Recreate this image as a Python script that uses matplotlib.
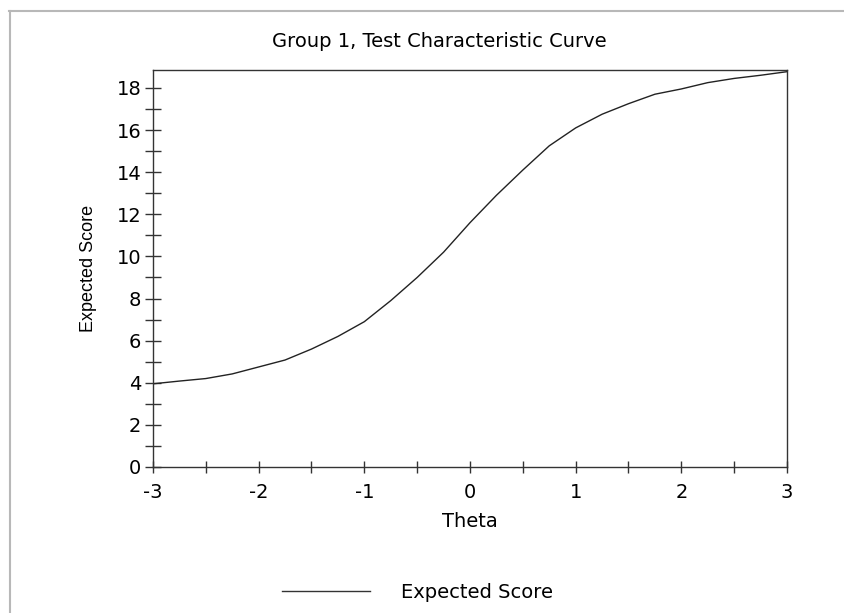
import numpy as np
import matplotlib.pyplot as plt
from matplotlib.lines import Line2D
from matplotlib.ticker import MultipleLocator

plt.rcParams['font.family'] = ['DejaVu Sans']
plt.rcParams['axes.unicode_minus'] = False

# datos -------------------------------------------------------------
theta = [-3.0, -2.75, -2.5, -2.25, -2.0, -1.75, -1.5, -1.25, -1.0, -0.75,
         -0.5, -0.25, 0.0, 0.25, 0.5, 0.75, 1.0, 1.25, 1.5, 1.75,
         2.0, 2.25, 2.5, 2.75, 3.0]
expected_score = [3.95, 4.08, 4.2, 4.42, 4.75, 5.08, 5.6, 6.2, 6.9, 7.9,
                  9.0, 10.2, 11.6, 12.9, 14.1, 15.25, 16.1, 16.75, 17.25, 17.7,
                  17.95, 18.25, 18.45, 18.6, 18.77]
x_ticks = [-3, -2, -1, 0, 1, 2, 3]
y_ticks = [0, 2, 4, 6, 8, 10, 12, 14, 16, 18]

fig = plt.figure(figsize=(8.45, 6.13), dpi=100)
ax = fig.add_axes([153/845, 1 - 467/613, (787 - 153)/845, (467 - 70)/613])

ax.plot(theta, expected_score, color='#222222', lw=1.0)

ax.set_xlim(-3, 3)
ax.set_ylim(0, 18.85)
ax.set_xticks(x_ticks)
ax.set_yticks(y_ticks)
ax.xaxis.set_minor_locator(MultipleLocator(0.5))
ax.yaxis.set_minor_locator(MultipleLocator(1))
ax.tick_params(axis='both', which='both', direction='inout', width=1,
               color='#333333', labelsize=14)
ax.tick_params(axis='y', which='both', length=11, pad=3)
ax.tick_params(axis='x', which='both', length=8, pad=7.5)
for s in ax.spines.values():
    s.set_color('#333333')
    s.set_linewidth(1.0)

ax.set_xlabel('Theta', fontsize=14, labelpad=7.5)
ax.set_ylabel('Expected Score', fontsize=13, labelpad=14,
              family=['Liberation Sans', 'DejaVu Sans'])

fig.text(439/845, 1 - 41.5/613, 'Group 1, Test Characteristic Curve',
         ha='center', va='center', fontsize=14)

# leyenda abajo
fig.add_artist(Line2D([282/845, 370/845], [1 - 591/613, 1 - 591/613],
                      color='#333333', lw=1.0))
fig.text(401/845, 1 - 592.5/613, 'Expected Score', ha='left', va='center',
         fontsize=14)

# marco gris de la ventana
fig.add_artist(Line2D([9/845, 1], [1 - 11/613, 1 - 11/613], color='#b8b8b8', lw=1.5))
fig.add_artist(Line2D([10/845, 10/845], [0, 1 - 11/613], color='#b8b8b8', lw=1.5))

fig.savefig('out.png', dpi=100)
